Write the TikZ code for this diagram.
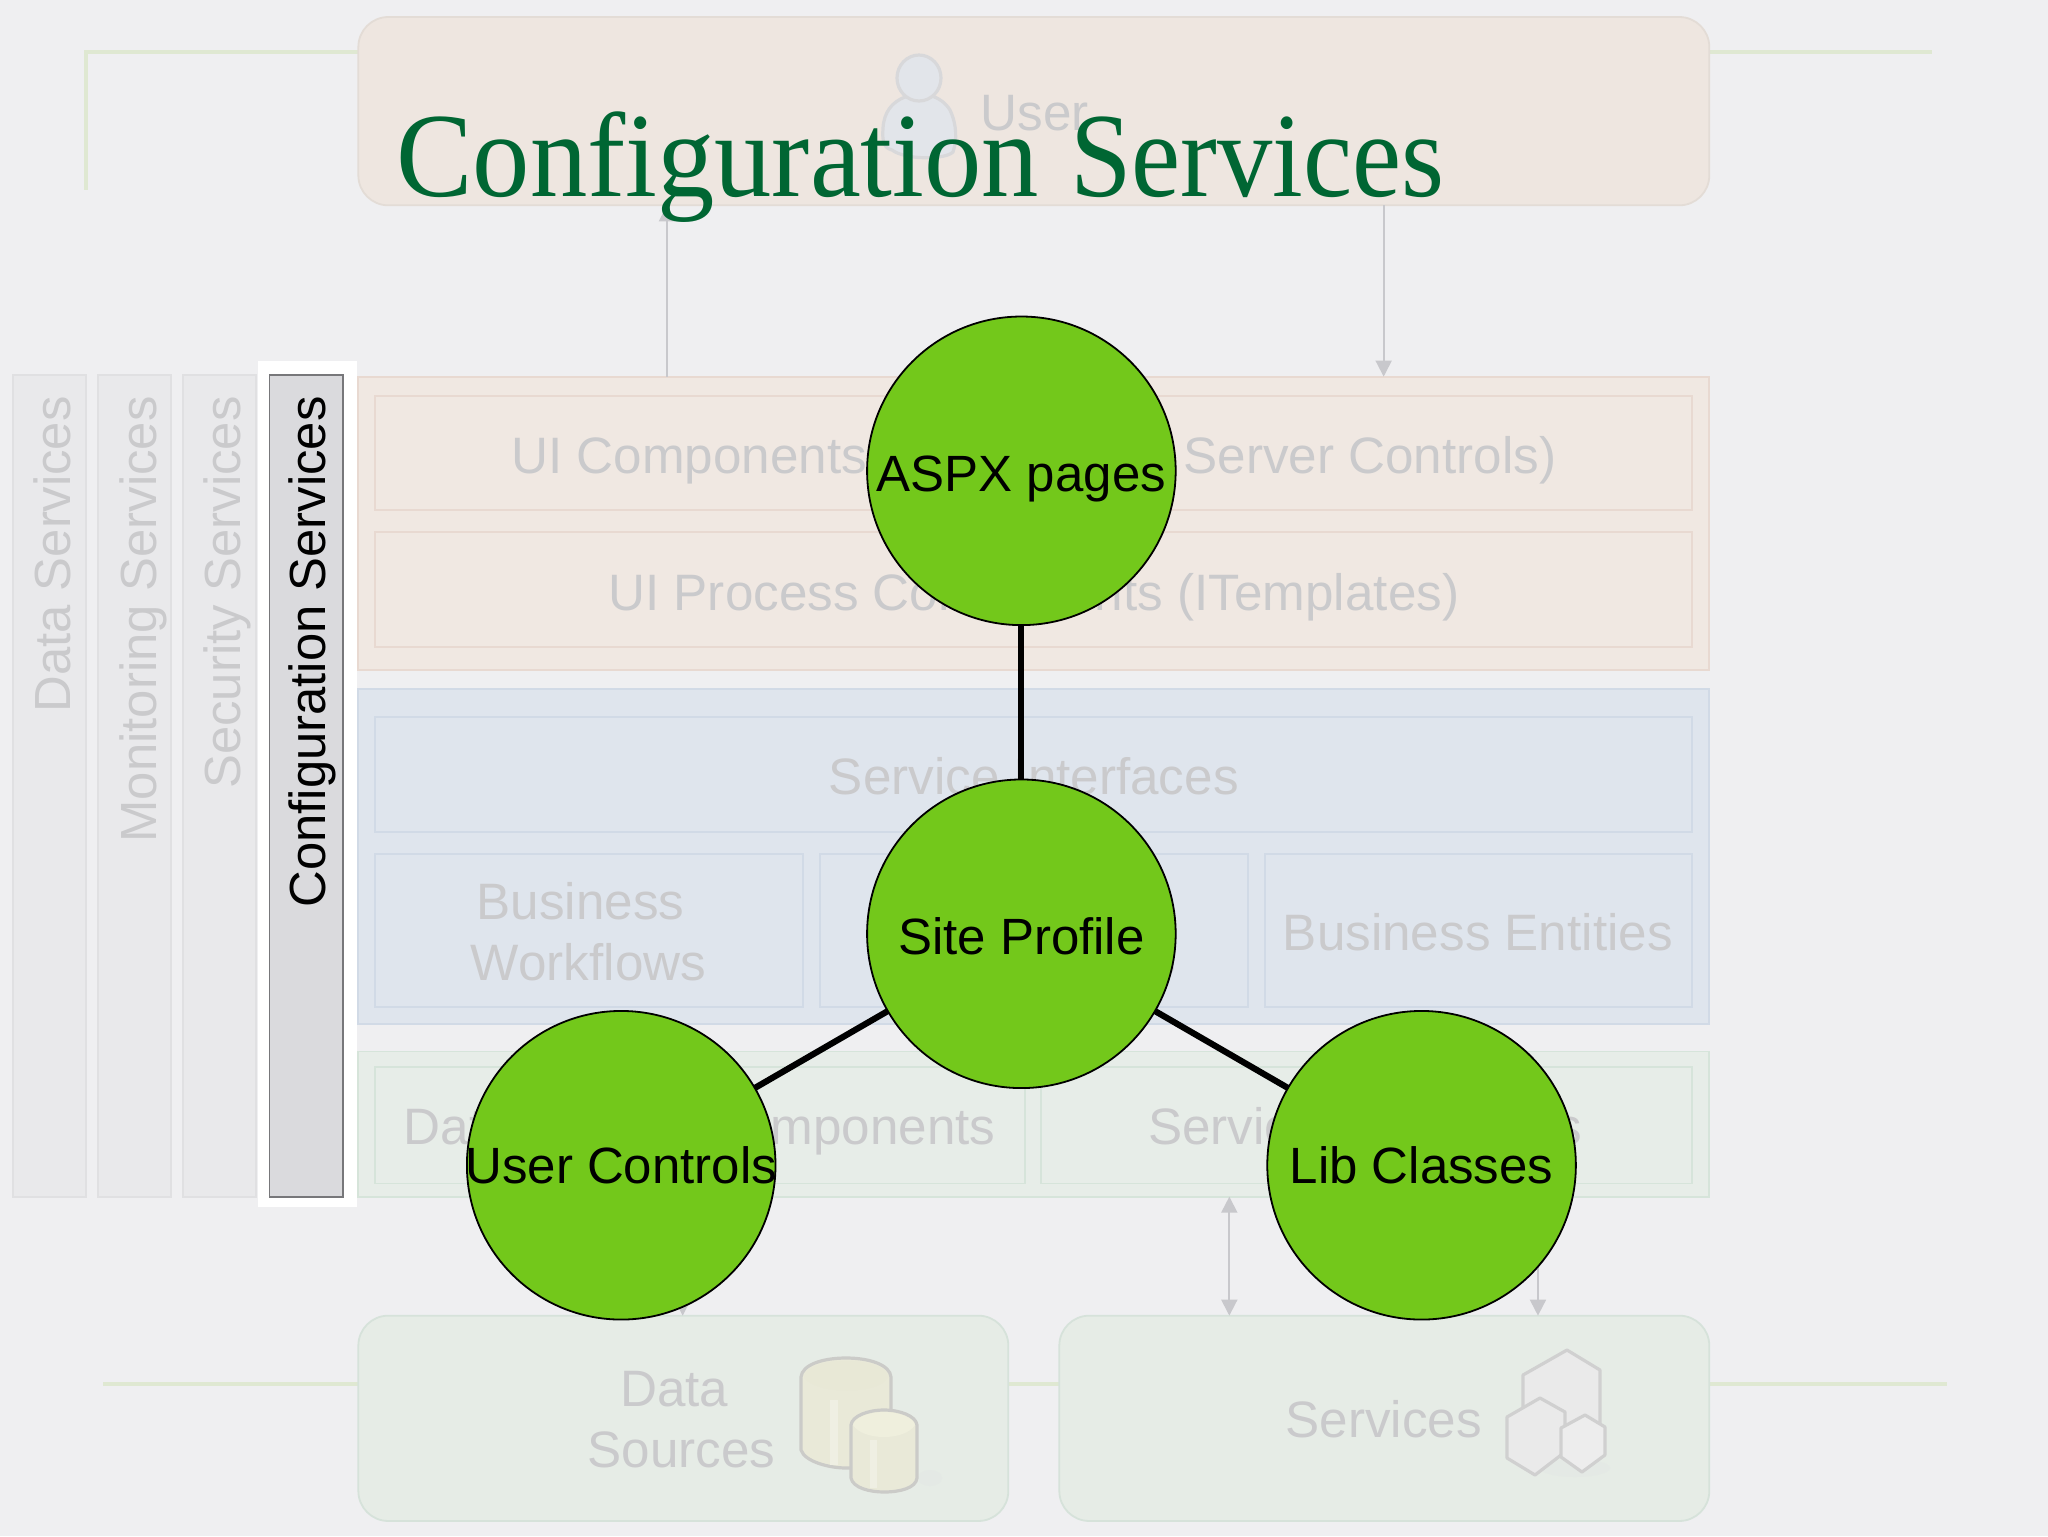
\documentclass[tikz,border=0pt]{standalone}
\usepackage{graphicx}
\usepackage{fontspec}
\setmainfont{Liberation Sans}
\newfontfamily\titlefont{Liberation Serif}
\usetikzlibrary{arrows.meta}
\definecolor{bgc}{HTML}{EFEFF1}
\definecolor{fadetxt}{HTML}{CACACC}
\definecolor{guide}{HTML}{DFE8D2}
\definecolor{wire}{HTML}{C8C8CC}
\definecolor{ballc}{HTML}{73C81B}
\definecolor{titlec}{HTML}{006633}
\definecolor{tf}{HTML}{EEE6E0}\definecolor{ts}{HTML}{E3DCD6}
\definecolor{uf}{HTML}{F0E8E2}\definecolor{us}{HTML}{E8D9D1}
\definecolor{bf}{HTML}{DFE5ED}\definecolor{bs}{HTML}{D1DAE6}
\definecolor{df}{HTML}{E7EDE8}\definecolor{ds}{HTML}{D6E4DA}
\definecolor{ef}{HTML}{E6ECE6}\definecolor{es}{HTML}{D6E2DA}
\definecolor{cf}{HTML}{E9E9EB}\definecolor{cs}{HTML}{E0E0E2}
\definecolor{sel}{HTML}{DADADD}\definecolor{sels}{HTML}{77777A}
\definecolor{pf}{HTML}{E2E5EA}\definecolor{ps}{HTML}{D8D8DA}
\definecolor{shad}{HTML}{E4E9E5}
\definecolor{cyf}{HTML}{E9E9D8}\definecolor{cys}{HTML}{CBCBC8}
\definecolor{cyh}{HTML}{EFEFE3}\definecolor{cyt}{HTML}{E8E8D6}\definecolor{cyu}{HTML}{EFEFDD}
\definecolor{hxf}{HTML}{EAEAEA}\definecolor{hxs}{HTML}{D0D0D0}\definecolor{hxl}{HTML}{EDEDED}
\def\un{0.6539pt}
\newcommand{\bx}[6]{\node[#6,minimum width={(#4-#2)*0.6539pt},minimum height={(#5-#3)*0.6539pt}] (#1) at ({(#2+#4)/2},{(#3+#5)/2}) {};}
\tikzset{
  box/.style={draw,inner sep=0pt,outer sep=0pt,line width=0.9pt},
  txt/.style={text=fadetxt,font=\fontsize{25.6}{30.7}\selectfont,inner sep=0pt,outer sep=0pt},
  side/.style={txt,font=\fontsize{25.4}{30.7}\selectfont,rotate=90,anchor=base east},
  wireline/.style={draw=wire,line width=0.9pt,-{Triangle[length=8pt,width=8pt]}},
  greenline/.style={draw=guide,line width=2pt},
  ball/.style={circle,draw=black,line width=0.9pt,fill=ballc,inner sep=0pt,outer sep=0pt,minimum size=154.3pt,text=black,font=\fontsize{25.5}{30}\selectfont,text height=18.2pt,text depth=0pt},
  link/.style={draw=black,line width=3.1pt},
  icon/.style={line width=1.6pt,line join=round,draw=#1},
  top/.style={box,fill=tf,draw=ts,rounded corners=15pt},
  ui/.style={box,fill=uf,draw=us},
  biz/.style={box,fill=bf,draw=bs},
  dat/.style={box,fill=df,draw=ds},
  ext/.style={box,fill=ef,draw=es,rounded corners=15pt},
  col/.style={box,fill=cf,draw=cs},
}
\begin{document}
\begin{tikzpicture}[x=\un,y=-\un]
\useasboundingbox (0,0) rectangle (1566,1174.5);
\fill[bgc] (0,0) rectangle (1566,1174.5);

% guide lines
\coordinate (ga) at (66,145);\coordinate (gb) at (66,40);\coordinate (gc) at (274,40);
\coordinate (gd) at (1307,40);\coordinate (ge) at (1477,40);
\coordinate (gf) at (79,1058);\coordinate (gg) at (274,1058);
\coordinate (gh) at (771,1058);\coordinate (gi) at (810,1058);
\coordinate (gj) at (1307,1058);\coordinate (gk) at (1489,1058);
\draw[greenline] (ga)--(gb)--(gc);
\draw[greenline] (gd)--(ge);
\draw[greenline] (gf)--(gg);
\draw[greenline] (gh)--(gi);
\draw[greenline] (gj)--(gk);

% side columns
\bx{cola}{10}{287}{66}{915}{col}
\bx{colb}{75}{287}{131}{915}{col}
\bx{colc}{140}{287}{196}{915}{col}
\bx{white}{197}{276}{273}{923}{box,fill=white,draw=none}
\bx{cold}{206}{287}{262}{915}{box,fill=sel,draw=sels}
\node[side] (ta) at (54,303) {Data Services};
\node[side] (tb) at (120,303) {Monitoring Services};
\node[side] (tc) at (184,303) {Security Services};
\node[side,text=black] (td) at (249,303) {Configuration Services};

% layers
\bx{user}{274}{13}{1307}{157}{top}
\bx{uil}{274}{288}{1307}{512}{ui}
\bx{uia}{287}{303}{1294}{390}{ui}
\bx{uib}{287}{407}{1294}{495}{ui}
\bx{bil}{274}{527}{1307}{783}{biz}
\bx{bia}{287}{548}{1294}{636}{biz}
\bx{bib}{287}{653}{614}{770}{biz}
\bx{bic}{627}{653}{954}{770}{biz}
\bx{bid}{967}{653}{1294}{770}{biz}
\bx{dal}{274}{804}{1307}{915}{dat}
\bx{daa}{287}{816}{784}{905}{dat}
\bx{dab}{796}{816}{1294}{905}{dat}
\bx{srca}{274}{1006}{771}{1163}{ext}
\bx{srcb}{810}{1006}{1307}{1163}{ext}

% wires
\draw[wireline] (510,0 |- uil.north) -- (510,0 |- user.south);
\draw[wireline] (1058,0 |- user.south) -- (1058,0 |- uil.north);
\draw[wireline,{Triangle[length=8pt,width=8pt]}-{Triangle[length=8pt,width=8pt]}] (940,0 |- dal.south) -- (940,0 |- srcb.north);
\draw[wireline] (1176,0 |- dal.south) -- (1176,0 |- srcb.north);
\draw[wireline] (522,0 |- dal.south) -- (522,0 |- srca.north);

% faded labels
\node[txt,anchor=base west] (tuser) at (750,100) {User};
\node[txt,anchor=base west] (tuia) at (391,362) {UI Components};
\node[txt,anchor=base east] (tuib) at (1190,362) {Server Controls)};
\node[txt,anchor=base] (tuic) at (790.5,466.5) {UI Process Components (ITemplates)};
\node[txt,anchor=base] (tsi) at (790.5,607.5) {Service Interfaces};
\node[txt,align=center] (tbw) at (450,712.5) {Business\rule{8pt}{0pt}\\Workflows};
\node[txt,align=center] (tbc) at (788,712.5) {Business\\Components};
\node[txt,anchor=base] (tbe) at (1130,726.5) {Business Entities};
\node[txt,anchor=base] (tda) at (535,875.5) {Data Access Components};
\node[txt,anchor=base west] (tsa) at (878,875.5) {Service};
\node[txt,anchor=base east] (tsb) at (1210,875.5) {s};
\node[txt,align=center] (tds) at (521,1085.5) {Data\rule{7pt}{0pt}\\Sources};
\node[txt,anchor=base] (tsv) at (1058,1099.5) {Services};

% icons (pixel coordinates)
\begin{scope}[x=0.5pt,y=-0.5pt]
  % user
  \draw[fill=pf,icon=ps] (905,97) .. controls (892,102) and (884,112) .. (883,128)
     .. controls (882,142) and (884,148) .. (892,150)
     .. controls (905,160) and (945,160) .. (953,152)
     .. controls (957,140) and (957,125) .. (950,110)
     .. controls (945,102) and (938,98) .. (932,96) -- cycle;
  \draw[fill=pf,icon=ps] (919,78) ellipse (22 and 23);
  % cylinders
  \fill[shad] (930,1478) ellipse (12 and 8);
  \draw[fill=cyf,icon=cys] (801,1377) -- (801,1450) .. controls (805,1462) and (830,1468) .. (846,1468)
     .. controls (870,1468) and (890,1462) .. (891,1450) -- (891,1377)
     .. controls (890,1365) and (870,1358) .. (846,1358) .. controls (822,1358) and (802,1365) .. (801,1377) -- cycle;
  \fill[cyh] (830,1400) rectangle (838,1465);
  \fill[cyt] (804,1377) .. controls (805,1367) and (825,1361) .. (846,1361)
     .. controls (868,1361) and (887,1367) .. (888,1377)
     .. controls (880,1395) and (815,1395) .. (804,1377) -- cycle;
  \draw[fill=cyf,icon=cys] (851,1425) -- (851,1478) .. controls (853,1488) and (870,1492) .. (884,1492)
     .. controls (900,1492) and (916,1488) .. (917,1478) -- (917,1425)
     .. controls (916,1416) and (900,1410) .. (884,1410) .. controls (868,1410) and (852,1416) .. (851,1425) -- cycle;
  \fill[cyh] (870,1440) rectangle (877,1488);
  \fill[cyu] (853,1425) .. controls (855,1417) and (870,1412) .. (884,1412)
     .. controls (898,1412) and (913,1417) .. (915,1425)
     .. controls (905,1441) and (863,1441) .. (853,1425) -- cycle;
  % hexagons
  \fill[shad] (1575,1468) ellipse (35 and 9);
  \draw[fill=hxf,icon=hxs] (1567,1350) -- (1600,1370) -- (1600,1430) -- (1570,1450) -- (1523,1420) -- (1523,1375) -- cycle;
  \draw[fill=hxf,icon=hxs] (1540,1398) -- (1565,1412) -- (1565,1452) -- (1535,1475) -- (1507,1458) -- (1507,1417) -- cycle;
  \draw[fill=hxl,icon=hxs] (1585,1415) -- (1605,1427) -- (1605,1455) -- (1582,1472) -- (1561,1457) -- (1561,1428) -- cycle;
\end{scope}

% title
\node[inner sep=0pt,outer sep=0pt,anchor=base west,text=titlec,font={\titlefont\fontsize{57.3}{60}\selectfont}] (title) at (303,150) {\scalebox{1}[1.05]{Configuration \kern1.2pt\scalebox{0.965}[1]{Services}}};

% circles
\draw[link] (781,360) -- (781,714);
\draw[link] (781,714) -- (475,891);
\draw[link] (781,714) -- (1087,891);
\node[ball] (aspx) at (781,360) {\makebox[0pt]{\raisebox{-1.3pt}{ASPX pages}}};
\node[ball] (site) at (781,714) {\makebox[0pt]{\raisebox{-1.3pt}{Site Profile}}};
\node[ball] (uc) at (475,891) {\makebox[0pt]{User Controls}};
\node[ball] (lib) at (1087,891) {\makebox[0pt]{Lib Classes}};
\end{tikzpicture}
\end{document}
